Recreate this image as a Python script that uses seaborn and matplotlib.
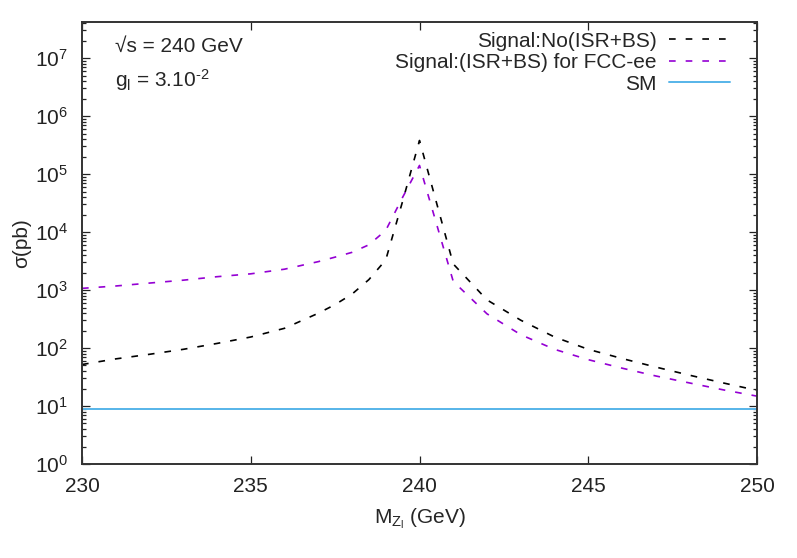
# ==============================
# SETUP
# ==============================
import numpy as np
import pandas as pd
import matplotlib
matplotlib.use("Agg")
import matplotlib.pyplot as plt
import seaborn as sns
from matplotlib.ticker import LogLocator, FixedLocator, NullLocator

sns.set_style("ticks")
plt.rcParams["font.family"] = ["Liberation Sans", "DejaVu Sans"]
plt.rcParams["mathtext.fontset"] = "custom"
plt.rcParams["mathtext.rm"] = "Liberation Sans"
plt.rcParams["mathtext.it"] = "Liberation Sans:italic"

# ==============================
# DATA
# ==============================
mass = [230, 231, 232, 233, 234, 235, 236, 237, 237.5, 238, 238.5, 239,
        239.5, 240, 241, 241.5, 242, 243, 244, 245, 246, 247, 248, 249, 250]

sig_no_isr = [52, 65, 78, 95, 120, 155, 219, 398, 562, 851, 1514, 3311,
              34000, 380000, 2818, 1380, 676, 302, 155, 95, 66, 47, 34, 25, 18.6]

sig_isr_fcc = [1070, 1175, 1320, 1480, 1700, 1905, 2290, 3090, 3700, 4470, 6030, 10700,
               39800, 141000, 1410, 741, 389, 170, 95, 63, 45, 33, 25, 19, 14.8]

sm = [9.0] * len(mass)

labels = ["Signal:No(ISR+BS)", "Signal:(ISR+BS) for FCC-ee", "SM"]

df = pd.DataFrame({"mass": mass, "no_isr": sig_no_isr, "isr": sig_isr_fcc, "sm": sm})

# ==============================
# PLOT
# ==============================
FS = 15

fig = plt.figure(figsize=(7.97, 5.58), dpi=100)
ax = fig.add_axes([82 / 797, 1 - 464 / 558, (757 - 82) / 797, (464 - 22) / 558])

sns.lineplot(data=df, x="mass", y="no_isr", ax=ax, color="black", lw=1.2, label=labels[0])
ax.lines[-1].set_dashes((4, 6))
sns.lineplot(data=df, x="mass", y="isr", ax=ax, color="#9400D3", lw=1.2, label=labels[1])
ax.lines[-1].set_dashes((4, 6))
sns.lineplot(data=df, x="mass", y="sm", ax=ax, color="#56B4E9", lw=1.4, label=labels[2])

ax.set_yscale("log")
ax.set_xlim(230, 250)
ax.set_ylim(1, 4.2e7)

ax.xaxis.set_major_locator(FixedLocator([230, 235, 240, 245, 250]))
ax.xaxis.set_minor_locator(NullLocator())
ax.yaxis.set_major_locator(LogLocator(base=10, numticks=12))
ax.yaxis.set_minor_locator(LogLocator(base=10, subs=np.arange(2, 10), numticks=12))

ax.tick_params(which="both", direction="in", top=True, right=True,
               labelsize=FS, colors="#222222", width=0.9)
ax.tick_params(which="major", length=6)
ax.tick_params(axis="x", which="major", pad=9)
ax.tick_params(axis="y", which="major", pad=10)
ax.tick_params(which="minor", length=3)
for sp in ax.spines.values():
    sp.set_linewidth(1.4)
    sp.set_color("#333333")

ax.set_xlabel(r"M$_{\mathrm{Z_l}}$ (GeV)", fontsize=FS)
ax.set_ylabel(r"σ(pb)", fontsize=FS)
ax.xaxis.set_label_coords(0.5, -0.095)
ax.yaxis.set_label_coords(-0.075, 0.5)

fig.text(115 / 797, 1 - 46 / 558, "√s = 240 GeV", fontsize=FS, va="center", ha="left")
fig.text(115 / 797, 1 - 80 / 558, r"g$_{\mathrm{l}}$ = 3.10$^{\text{-2}}$",
         fontsize=FS, va="center", ha="left")

leg = ax.legend(loc="upper right", bbox_to_anchor=(0.972, 0.997), frameon=False,
                markerfirst=False, fontsize=FS, handlelength=2.9, handletextpad=0.6,
                labelspacing=0.12, borderaxespad=0.0)
for t in leg.get_texts():
    t.set_ha("right")
leg._legend_box.align = "right"

fig.savefig("out.png", dpi=100)
